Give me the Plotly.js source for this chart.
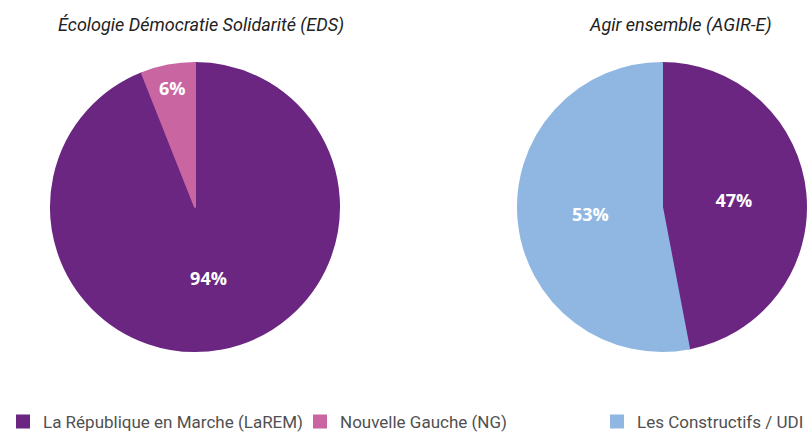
<!DOCTYPE html>
<html>
<head>
<meta charset="utf-8">
<script src="https://cdn.plot.ly/plotly-3.0.1.min.js"></script>
<style>html,body{margin:0;padding:0;background:#fff;overflow:hidden;}#chart{width:809px;height:434px;}</style>
</head>
<body>
<div id="chart"></div>
<script>
const edsLabels = ["La République en Marche (LaREM)", "Nouvelle Gauche (NG)"];
const edsValues = [94, 6];
const agirLabels = ["La République en Marche (LaREM)", "Les Constructifs / UDI"];
const agirValues = [47, 53];
const titles = ["Écologie Démocratie Solidarité (EDS)", "Agir ensemble (AGIR-E)"];
const colorMap = {
  "La République en Marche (LaREM)": "#6b2682",
  "Nouvelle Gauche (NG)": "#c966a2",
  "Les Constructifs / UDI": "#8fb7e1"
};

const W = 809, H = 434;
function dom(cx, cy, r) {
  return { x: [(cx - r) / W, (cx + r) / W], y: [(H - cy - r) / H, (H - cy + r) / H] };
}

function pie(labels, values, domain, legendwidth) {
  const cols = labels.map(l => colorMap[l]);
  return {
    type: "pie",
    labels: labels,
    values: values,
    sort: false,
    direction: "clockwise",
    rotation: 0,
    textinfo: "percent",
    texttemplate: "%{percent:.0%}",
    textposition: "inside",
    insidetextorientation: "horizontal",
    insidetextfont: { family: "Open Sans, sans-serif", size: 18, color: "#ffffff", weight: "bold" },
    hoverinfo: "label+percent",
    marker: { colors: cols, line: { width: 2, color: cols } },
    domain: domain,
    legendwidth: legendwidth
  };
}

const data = [
  pie(edsLabels, edsValues, dom(195, 207, 144), 252),
  pie(agirLabels, agirValues, dom(662, 207, 144), 168)
];

const layout = {
  width: W, height: H,
  margin: { l: 0, r: 0, t: 0, b: 0, autoexpand: false },
  paper_bgcolor: "#ffffff",
  showlegend: true,
  legend: {
    orientation: "h",
    x: 3 / W, xanchor: "left",
    y: 12 / H, yanchor: "middle",
    font: { family: "Roboto, sans-serif", size: 17, color: "#505050" },
    traceorder: "normal"
  },
  annotations: [
    { text: titles[0], x: 201 / W, y: 1 - 25 / H, xref: "paper", yref: "paper", showarrow: false,
      xanchor: "center", yanchor: "middle",
      font: { family: "Roboto, sans-serif", size: 18, color: "#222222", style: "italic" } },
    { text: titles[1], x: 680 / W, y: 1 - 25 / H, xref: "paper", yref: "paper", showarrow: false,
      xanchor: "center", yanchor: "middle",
      font: { family: "Roboto, sans-serif", size: 18, color: "#222222", style: "italic" } }
  ]
};

Plotly.newPlot("chart", data, layout, { displayModeBar: false, staticPlot: true });
</script>
</body>
</html>
